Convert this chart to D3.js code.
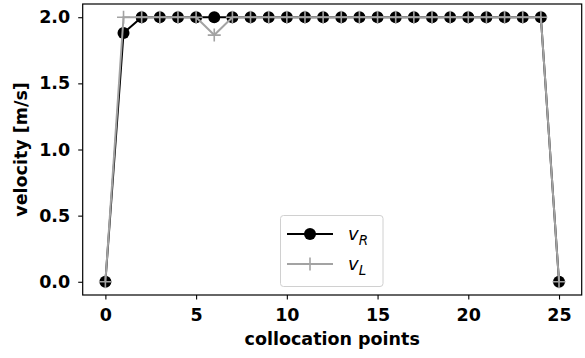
<!DOCTYPE html>
<html>
<head>
<meta charset="utf-8">
<script src="https://cdn.jsdelivr.net/npm/d3@7"></script>
<style>
  html, body { margin: 0; padding: 0; background: #fff; }
  svg { display: block; }
  text { font-family: "DejaVu Sans", sans-serif; }
</style>
</head>
<body>
<script>
// Collocation point indices and the two wheel velocities [m/s]
const points = d3.range(0, 26);
const vR = [0, 1.88, 2, 2, 2, 2, 2, 2, 2, 2, 2, 2, 2, 2, 2, 2, 2, 2, 2, 2, 2, 2, 2, 2, 2, 0];
const vL = [0, 2, 2, 2, 2, 2, 1.865, 2, 2, 2, 2, 2, 2, 2, 2, 2, 2, 2, 2, 2, 2, 2, 2, 2, 2, 0];
const xTicks = [0, 5, 10, 15, 20, 25];
const yTicks = [0.0, 0.5, 1.0, 1.5, 2.0];

const W = 585, H = 358;
const margin = { left: 82.7, right: 3.3, top: 4, bottom: 63 };
const fs = 17.5;

const svg = d3.select("body").append("svg").attr("width", W).attr("height", H);

const x = d3.scaleLinear().domain([-1.25, 26.25]).range([margin.left, W - margin.right]);
const y = d3.scaleLinear().domain([-0.1, 2.1]).range([H - margin.bottom, margin.top]);

// Axes
const xAxis = d3.axisBottom(x).tickValues(xTicks).tickFormat(d3.format("d")).tickSize(4.5).tickPadding(9.5);
const yAxis = d3.axisLeft(y).tickValues(yTicks).tickFormat(d3.format(".1f")).tickSize(4.5).tickPadding(8);

const gx = svg.append("g").attr("transform", `translate(0,${H - margin.bottom})`).call(xAxis);
const gy = svg.append("g").attr("transform", `translate(${margin.left},0)`).call(yAxis);
[gx, gy].forEach(g => {
  g.select(".domain").remove();
  g.selectAll(".tick line").attr("stroke", "#000").attr("stroke-width", 1.1);
  g.selectAll(".tick text").attr("font-size", fs).attr("font-weight", "bold")
    .attr("font-family", "DejaVu Sans").attr("fill", "#000");
});

// Axis labels
svg.append("text").attr("x", (x.range()[0] + x.range()[1]) / 2).attr("y", 345)
  .attr("text-anchor", "middle").attr("font-size", fs).attr("font-weight", "bold")
  .text("collocation points");
svg.append("text").attr("transform", `translate(27,${(y.range()[0] + y.range()[1]) / 2}) rotate(-90)`)
  .attr("text-anchor", "middle").attr("font-size", fs).attr("font-weight", "bold")
  .text("velocity [m/s]");

const line = d3.line().x((d, i) => x(points[i])).y(d => y(d));
const grey = "#a3a3a3";

// v_R: black line with filled circles
svg.append("path").datum(vR).attr("d", line).attr("fill", "none")
  .attr("stroke", "#000").attr("stroke-width", 2);
svg.append("g").selectAll("circle").data(vR).join("circle")
  .attr("cx", (d, i) => x(points[i])).attr("cy", d => y(d)).attr("r", 6).attr("fill", "#000");

// v_L: grey line with plus markers
svg.append("path").datum(vL).attr("d", line).attr("fill", "none")
  .attr("stroke", grey).attr("stroke-width", 2);
const plusSize = 6.5;
svg.append("g").selectAll("path").data(vL).join("path")
  .attr("d", (d, i) => {
    const cx = x(points[i]), cy = y(d);
    return `M${cx - plusSize},${cy}H${cx + plusSize}M${cx},${cy - plusSize}V${cy + plusSize}`;
  })
  .attr("stroke", grey).attr("stroke-width", 1.6).attr("fill", "none");

// Frame
svg.append("rect").attr("x", x.range()[0]).attr("y", y.range()[1])
  .attr("width", x.range()[1] - x.range()[0]).attr("height", y.range()[0] - y.range()[1])
  .attr("fill", "none").attr("stroke", "#000").attr("stroke-width", 1.2);

// Legend
const lg = svg.append("g").attr("transform", "translate(280,215)");
lg.append("rect").attr("x", 0.5).attr("y", 0.5).attr("width", 102.5).attr("height", 71).attr("rx", 3)
  .attr("fill", "#fff").attr("fill-opacity", 0.8).attr("stroke", "#d0d0d0").attr("stroke-width", 1);
const items = [
  { sub: "R", color: "#000", marker: "circle" },
  { sub: "L", color: grey, marker: "plus" }
];
items.forEach((it, k) => {
  const cy = 19 + k * 30;
  lg.append("line").attr("x1", 7).attr("x2", 53).attr("y1", cy).attr("y2", cy)
    .attr("stroke", it.color).attr("stroke-width", 2);
  if (it.marker === "circle") {
    lg.append("circle").attr("cx", 30).attr("cy", cy).attr("r", 6).attr("fill", it.color);
  } else {
    lg.append("path").attr("d", `M${30 - plusSize},${cy}H${30 + plusSize}M30,${cy - plusSize}V${cy + plusSize}`)
      .attr("stroke", it.color).attr("stroke-width", 1.6);
  }
  const t = lg.append("text").attr("x", 68).attr("y", cy + 6).attr("font-size", 18)
    .attr("font-style", "italic").attr("fill", "#000");
  t.append("tspan").text("v");
  t.append("tspan").attr("font-size", 13.5).attr("dy", 5).text(it.sub);
});
</script>
</body>
</html>
